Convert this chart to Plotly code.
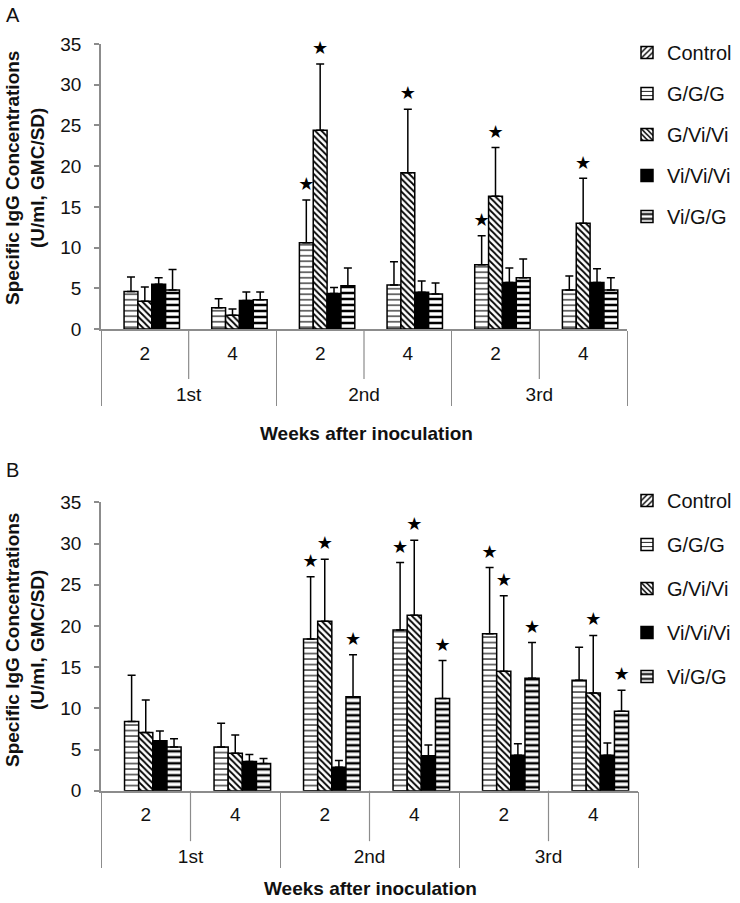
import plotly.graph_objects as go

# ---------------- data ----------------
outer = ["1st", "1st", "2nd", "2nd", "3rd", "3rd"]
weeks = ["2", "4", "2", "4", "2", "4"]
series_names = ["Control", "G/G/G", "G/Vi/Vi", "Vi/Vi/Vi", "Vi/G/G"]
y_ticks = [0, 5, 10, 15, 20, 25, 30, 35]

# Panel A: GMC values (Control bars are not visible in the figure)
A_control = [None, None, None, None, None, None]
A_ggg = [4.6, 2.6, 10.6, 5.4, 7.9, 4.8]
A_gvv = [3.4, 1.7, 24.4, 19.2, 16.3, 13.0]
A_vvv = [5.5, 3.5, 4.35, 4.5, 5.7, 5.7]
A_vgg = [4.8, 3.6, 5.3, 4.3, 6.3, 4.8]
# Panel A: SD (upper)
A_control_sd = [None, None, None, None, None, None]
A_ggg_sd = [1.8, 1.1, 5.25, 2.85, 3.55, 1.7]
A_gvv_sd = [1.75, 0.75, 8.15, 7.8, 6.0, 5.5]
A_vvv_sd = [0.8, 1.05, 0.75, 1.4, 1.8, 1.7]
A_vgg_sd = [2.5, 0.95, 2.2, 1.35, 2.3, 1.5]
# Panel A: significance stars
A_control_star = [0, 0, 0, 0, 0, 0]
A_ggg_star = [0, 0, 1, 0, 1, 0]
A_gvv_star = [0, 0, 1, 1, 1, 1]
A_vvv_star = [0, 0, 0, 0, 0, 0]
A_vgg_star = [0, 0, 0, 0, 0, 0]

# Panel B: GMC values
B_control = [None, None, None, None, None, None]
B_ggg = [8.4, 5.3, 18.4, 19.5, 19.05, 13.4]
B_gvv = [7.05, 4.55, 20.55, 21.3, 14.5, 11.85]
B_vvv = [6.05, 3.55, 2.85, 4.25, 4.3, 4.3]
B_vgg = [5.3, 3.3, 11.4, 11.2, 13.65, 9.65]
# Panel B: SD (upper)
B_control_sd = [None, None, None, None, None, None]
B_ggg_sd = [5.6, 2.9, 7.55, 8.2, 8.05, 4.0]
B_gvv_sd = [3.95, 2.2, 7.55, 9.1, 9.15, 7.0]
B_vvv_sd = [1.2, 0.85, 0.8, 1.3, 1.4, 1.5]
B_vgg_sd = [1.0, 0.6, 5.1, 4.6, 4.35, 2.55]
# Panel B: significance stars
B_control_star = [0, 0, 0, 0, 0, 0]
B_ggg_star = [0, 0, 1, 1, 1, 0]
B_gvv_star = [0, 0, 1, 1, 1, 1]
B_vvv_star = [0, 0, 0, 0, 0, 0]
B_vgg_star = [0, 0, 1, 1, 1, 1]

panelA = {
    "Control": (A_control, A_control_sd, A_control_star),
    "G/G/G": (A_ggg, A_ggg_sd, A_ggg_star),
    "G/Vi/Vi": (A_gvv, A_gvv_sd, A_gvv_star),
    "Vi/Vi/Vi": (A_vvv, A_vvv_sd, A_vvv_star),
    "Vi/G/G": (A_vgg, A_vgg_sd, A_vgg_star),
}
panelB = {
    "Control": (B_control, B_control_sd, B_control_star),
    "G/G/G": (B_ggg, B_ggg_sd, B_ggg_star),
    "G/Vi/Vi": (B_gvv, B_gvv_sd, B_gvv_star),
    "Vi/Vi/Vi": (B_vvv, B_vvv_sd, B_vvv_star),
    "Vi/G/G": (B_vgg, B_vgg_sd, B_vgg_star),
}

# ---------------- styles ----------------
FONT = "Liberation Sans, Arial, sans-serif"
AXIS_GREY = "#8c8c8c"
STAR_LIFT = 0.35  # thin invisible carrier (data units) above the error bar; star sits on top

marker_styles = {
    "Control": dict(color="white", pattern=dict(shape="/", size=5, solidity=0.35,
                                                fgcolor="black", bgcolor="white", fillmode="replace")),
    "G/G/G": dict(color="white", pattern=dict(shape="-", size=5.5, solidity=0.2,
                                              fgcolor="black", bgcolor="white", fillmode="replace")),
    "G/Vi/Vi": dict(color="white", pattern=dict(shape="\\", size=4.5, solidity=0.4,
                                                fgcolor="black", bgcolor="white", fillmode="replace")),
    "Vi/Vi/Vi": dict(color="black"),
    "Vi/G/G": dict(color="white", pattern=dict(shape="-", size=6, solidity=0.42,
                                               fgcolor="black", bgcolor="white", fillmode="replace")),
}

# outer-level labels are set one text line lower than the week labels' row
outer_labels = ["<br>" + o for o in outer]

fig = go.Figure()


def add_panel(panel, xa, ya, legend_id):
    xcat = [outer_labels, weeks]
    for name in series_names:
        vals, sds, _ = panel[name]
        m = dict(marker_styles[name])
        m["line"] = dict(color="black", width=1.5)
        fig.add_trace(go.Bar(
            x=xcat, y=vals, name=name, marker=m,
            offsetgroup=name, legendgroup=legend_id + name, legend=legend_id,
            error_y=dict(type="data", array=sds, arrayminus=[0] * len(sds), symmetric=False,
                         color="black", thickness=1.5, width=4),
            xaxis=xa, yaxis=ya, hoverinfo="skip",
        ))
    for name in series_names:
        vals, sds, stars = panel[name]
        if not any(stars):
            continue
        fig.add_trace(go.Bar(
            x=xcat,
            y=[STAR_LIFT if s else None for s in stars],
            base=[(v + e) if s else None for v, e, s in zip(vals, sds, stars)],
            text=["★" if s else "" for s in stars],
            textposition="outside", textangle=0, constraintext="none",
            textfont=dict(size=18, color="black", family="DejaVu Sans"),
            marker=dict(color="rgba(0,0,0,0)", line=dict(width=0)),
            offsetgroup=name, showlegend=False, cliponaxis=False,
            xaxis=xa, yaxis=ya, hoverinfo="skip",
        ))


add_panel(panelA, "x", "y", "legend")
add_panel(panelB, "x2", "y2", "legend2")

W, H = 740, 903


def px(p):
    return p / W


def py(p):
    return 1 - p / H


A_x = [px(101), px(627)]
B_x = [px(101), px(638)]
A_y = [py(329), py(44)]
B_y = [py(790.7), py(502.3)]

xax_common = dict(type="multicategory", showline=True, linecolor=AXIS_GREY, linewidth=1.5,
                  showgrid=False, zeroline=False, ticks="", ticklabelstandoff=6,
                  showdividers=True, dividercolor=AXIS_GREY, dividerwidth=1.2,
                  tickfont=dict(family=FONT, size=19, color="#111"), automargin=False)
yax_common = dict(range=[0, 35], tickvals=y_ticks, showline=True, linecolor=AXIS_GREY,
                  linewidth=1.5, ticks="outside", ticklen=5, tickcolor=AXIS_GREY, tickwidth=1.5,
                  ticklabelstandoff=9, showgrid=False, zeroline=False,
                  tickfont=dict(family=FONT, size=19, color="#111"), automargin=False)

legend_common = dict(font=dict(family=FONT, size=20, color="#111"), bgcolor="rgba(0,0,0,0)",
                     xanchor="left", yanchor="top", traceorder="grouped", itemclick=False,
                     itemdoubleclick=False)

fig.update_layout(
    width=W, height=H, margin=dict(l=0, r=0, t=0, b=0), autosize=False,
    paper_bgcolor="white", plot_bgcolor="white",
    barmode="group", bargap=0.21, bargroupgap=0,
    xaxis=dict(domain=A_x, anchor="y", **xax_common),
    yaxis=dict(domain=A_y, anchor="x", **yax_common),
    xaxis2=dict(domain=B_x, anchor="y2", **xax_common),
    yaxis2=dict(domain=B_y, anchor="x2", **yax_common),
    legend=dict(x=px(627), y=py(33), tracegroupgap=12, **legend_common),
    legend2=dict(x=px(627), y=py(481), tracegroupgap=15, **legend_common),
    font=dict(family=FONT, color="#111"),
)

# inner week dividers (between "2" and "4" within each injection group)
for xr, yr in (("x domain", "y domain"), ("x2 domain", "y2 domain")):
    for k in (1, 3, 5):
        fig.add_shape(type="line", xref=xr, yref=yr, x0=k / 6, x1=k / 6, y0=0, y1=-0.175,
                      line=dict(color=AXIS_GREY, width=1.2))

ytitle = "<b>Specific IgG Concentrations<br>(U/ml, GMC/SD)</b>"
annots = [
    dict(text="A", x=px(4), y=py(2), xanchor="left", yanchor="top", font=dict(size=20)),
    dict(text="B", x=px(4), y=py(457), xanchor="left", yanchor="top", font=dict(size=20)),
    dict(text=ytitle, x=0, y=py(178), xanchor="left", yanchor="middle",
         textangle=-90, font=dict(size=19)),
    dict(text=ytitle, x=0, y=py(640), xanchor="left", yanchor="middle",
         textangle=-90, font=dict(size=19)),
    dict(text="<b>Weeks after inoculation</b>", x=px(366), y=py(433),
         xanchor="center", yanchor="middle", font=dict(size=19)),
    dict(text="<b>Weeks after inoculation</b>", x=px(370), y=py(888),
         xanchor="center", yanchor="middle", font=dict(size=19)),
]
for a in annots:
    a.update(xref="paper", yref="paper", showarrow=False)
    a["font"].update(family=FONT, color="#111")
    fig.add_annotation(**a)

# remove the browser's default 8px body margin so figure pixels match page pixels
fig.write_html("out.html", config={"displayModeBar": False},
               post_script="document.body.style.margin='0px';")
